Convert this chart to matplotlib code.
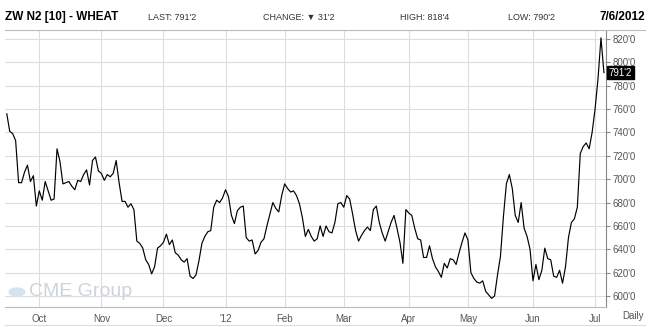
import matplotlib
matplotlib.use("Agg")
import matplotlib.pyplot as plt
from matplotlib.patches import Circle
import pandas as pd

# closing prices (cents/bu) per trading day, month by month
sep = [756, 741, 739, 733, 697, 697, 706, 712, 698, 703, 677]
oct_ = [690, 682, 698, 690, 682, 683, 726, 715, 696, 697, 698, 694, 691, 699, 698, 704, 708, 695, 716, 719, 707]
nov = [705, 699, 704, 702, 705, 716, 697, 681, 681, 676, 679, 674, 647, 645, 641, 631, 627, 619, 625, 641, 643]
dec = [646, 653, 644, 648, 637, 635, 631, 629, 632, 617, 615, 618, 630, 645, 651, 655, 656, 676, 682, 680, 684]
jan = [691, 685, 669, 662, 673, 676, 677, 650, 647, 648, 636, 639, 646, 649, 660, 670, 680, 675, 672, 686]
feb = [696, 692, 689, 690, 686, 679, 667, 651, 657, 651, 647, 649, 660, 651, 660, 655, 654, 663, 679, 680]
mar = [676, 686, 683, 670, 656, 647, 652, 656, 659, 656, 674, 677, 663, 654, 647, 655, 663, 669, 658, 646, 628, 674]
apr = [671, 669, 658, 649, 648, 633, 633, 643, 632, 625, 621, 616, 628, 624, 632, 631, 627, 637, 646, 654]
may = [648, 620, 615, 612, 611, 613, 604, 601, 598, 600, 618, 634, 668, 696, 704, 692, 669, 663, 680, 658, 651, 640]
jun = [613, 627, 614, 622, 641, 632, 631, 617, 616, 622, 611, 625, 650, 663, 666, 676, 722, 728, 731, 726, 740]
jul = [760, 786, 821, 791.25]
prices = sep + oct_ + nov + dec + jan + feb + mar + apr + may + jun + jul

holidays = ["2011-11-24", "2011-12-26", "2012-01-02", "2012-01-16",
            "2012-02-20", "2012-04-06", "2012-05-28", "2012-07-04"]
dates = pd.bdate_range("2011-09-16", "2012-07-06")
dates = dates[~dates.isin(pd.to_datetime(holidays))]

month_labels = ["Oct", "Nov", "Dec", "'12", "Feb", "Mar", "Apr", "May", "Jun", "Jul"]
y_ticks = [600, 620, 640, 660, 680, 700, 720, 740, 760, 780, 800, 820]

header = [("LAST: 791'2", 148), ("CHANGE: \u25bc 31'2", 263),
          ("HIGH: 818'4", 400), ("LOW: 790'2", 508)]

plt.rcParams['font.family'] = ['Liberation Sans', 'DejaVu Sans']

x = list(range(len(prices)))
# first trading day of each month
month_pos = [i for i in range(1, len(dates)) if dates[i].month != dates[i - 1].month]

fig = plt.figure(figsize=(6.5, 3.27), dpi=100)
ax = fig.add_axes([5 / 650, 20 / 327, 601 / 650, 277 / 327])

ax.plot(x, prices, color="black", lw=0.85, zorder=3)
ax.set_xlim(-0.6, 202.7)
ax.set_ylim(590.6, 827.7)

ax.set_xticks(month_pos)
ax.set_xticklabels(month_labels, fontsize=7, color="#555555")
ax.set_yticks(y_ticks)
ax.set_yticklabels([f"{v}'0" for v in y_ticks], fontsize=7, color="#555555")
ax.yaxis.tick_right()
ax.tick_params(axis="x", length=0, pad=5)
ax.tick_params(axis="y", length=3, pad=2, color="#888888")
ax.grid(True, color="#dddddd", lw=0.8, zorder=0)

for side in ["top", "left"]:
    ax.spines[side].set_visible(False)
ax.spines["right"].set_color("#888888")
ax.spines["bottom"].set_color("#bbbbbb")

# last price tag
ax.annotate("791'2", xy=(1.0, prices[-1]), xycoords=("axes fraction", "data"),
            xytext=(2, 0), textcoords="offset points", va="center", ha="left",
            fontsize=7, color="white",
            bbox=dict(boxstyle="square,pad=0.15", fc="black", ec="black"))

# header row
fig.text(5 / 650, 1 - 17 / 327, "ZW N2 [10] - WHEAT", fontsize=8.5, fontweight="bold",
         va="center")
for txt, px in header:
    fig.text(px / 650, 1 - 17 / 327, txt, fontsize=6.5, color="#333333", va="center")
fig.text(645 / 650, 1 - 17 / 327, "7/6/2012", fontsize=8.5, fontweight="bold",
         va="center", ha="right")
fig.add_artist(plt.Line2D([5 / 650, 645 / 650], [1 - 30 / 327] * 2,
                          transform=fig.transFigure, color="#bbbbbb", lw=0.8))
fig.add_artist(plt.Line2D([5 / 650, 645 / 650], [1 - 325 / 327] * 2,
                          transform=fig.transFigure, color="#dddddd", lw=0.8))
fig.text(622 / 650, 1 - 316 / 327, "Daily", fontsize=7, color="#555555", va="center")

# watermark
fig.add_artist(Circle((17 / 650, 1 - 292 / 327), 0.012, transform=fig.transFigure,
                      color="#d5e3ee", zorder=1))
fig.text(29 / 650, 1 - 292 / 327, "CME Group", fontsize=14, color="#cbd3dc", va="center")

fig.savefig("out.png", dpi=100)
